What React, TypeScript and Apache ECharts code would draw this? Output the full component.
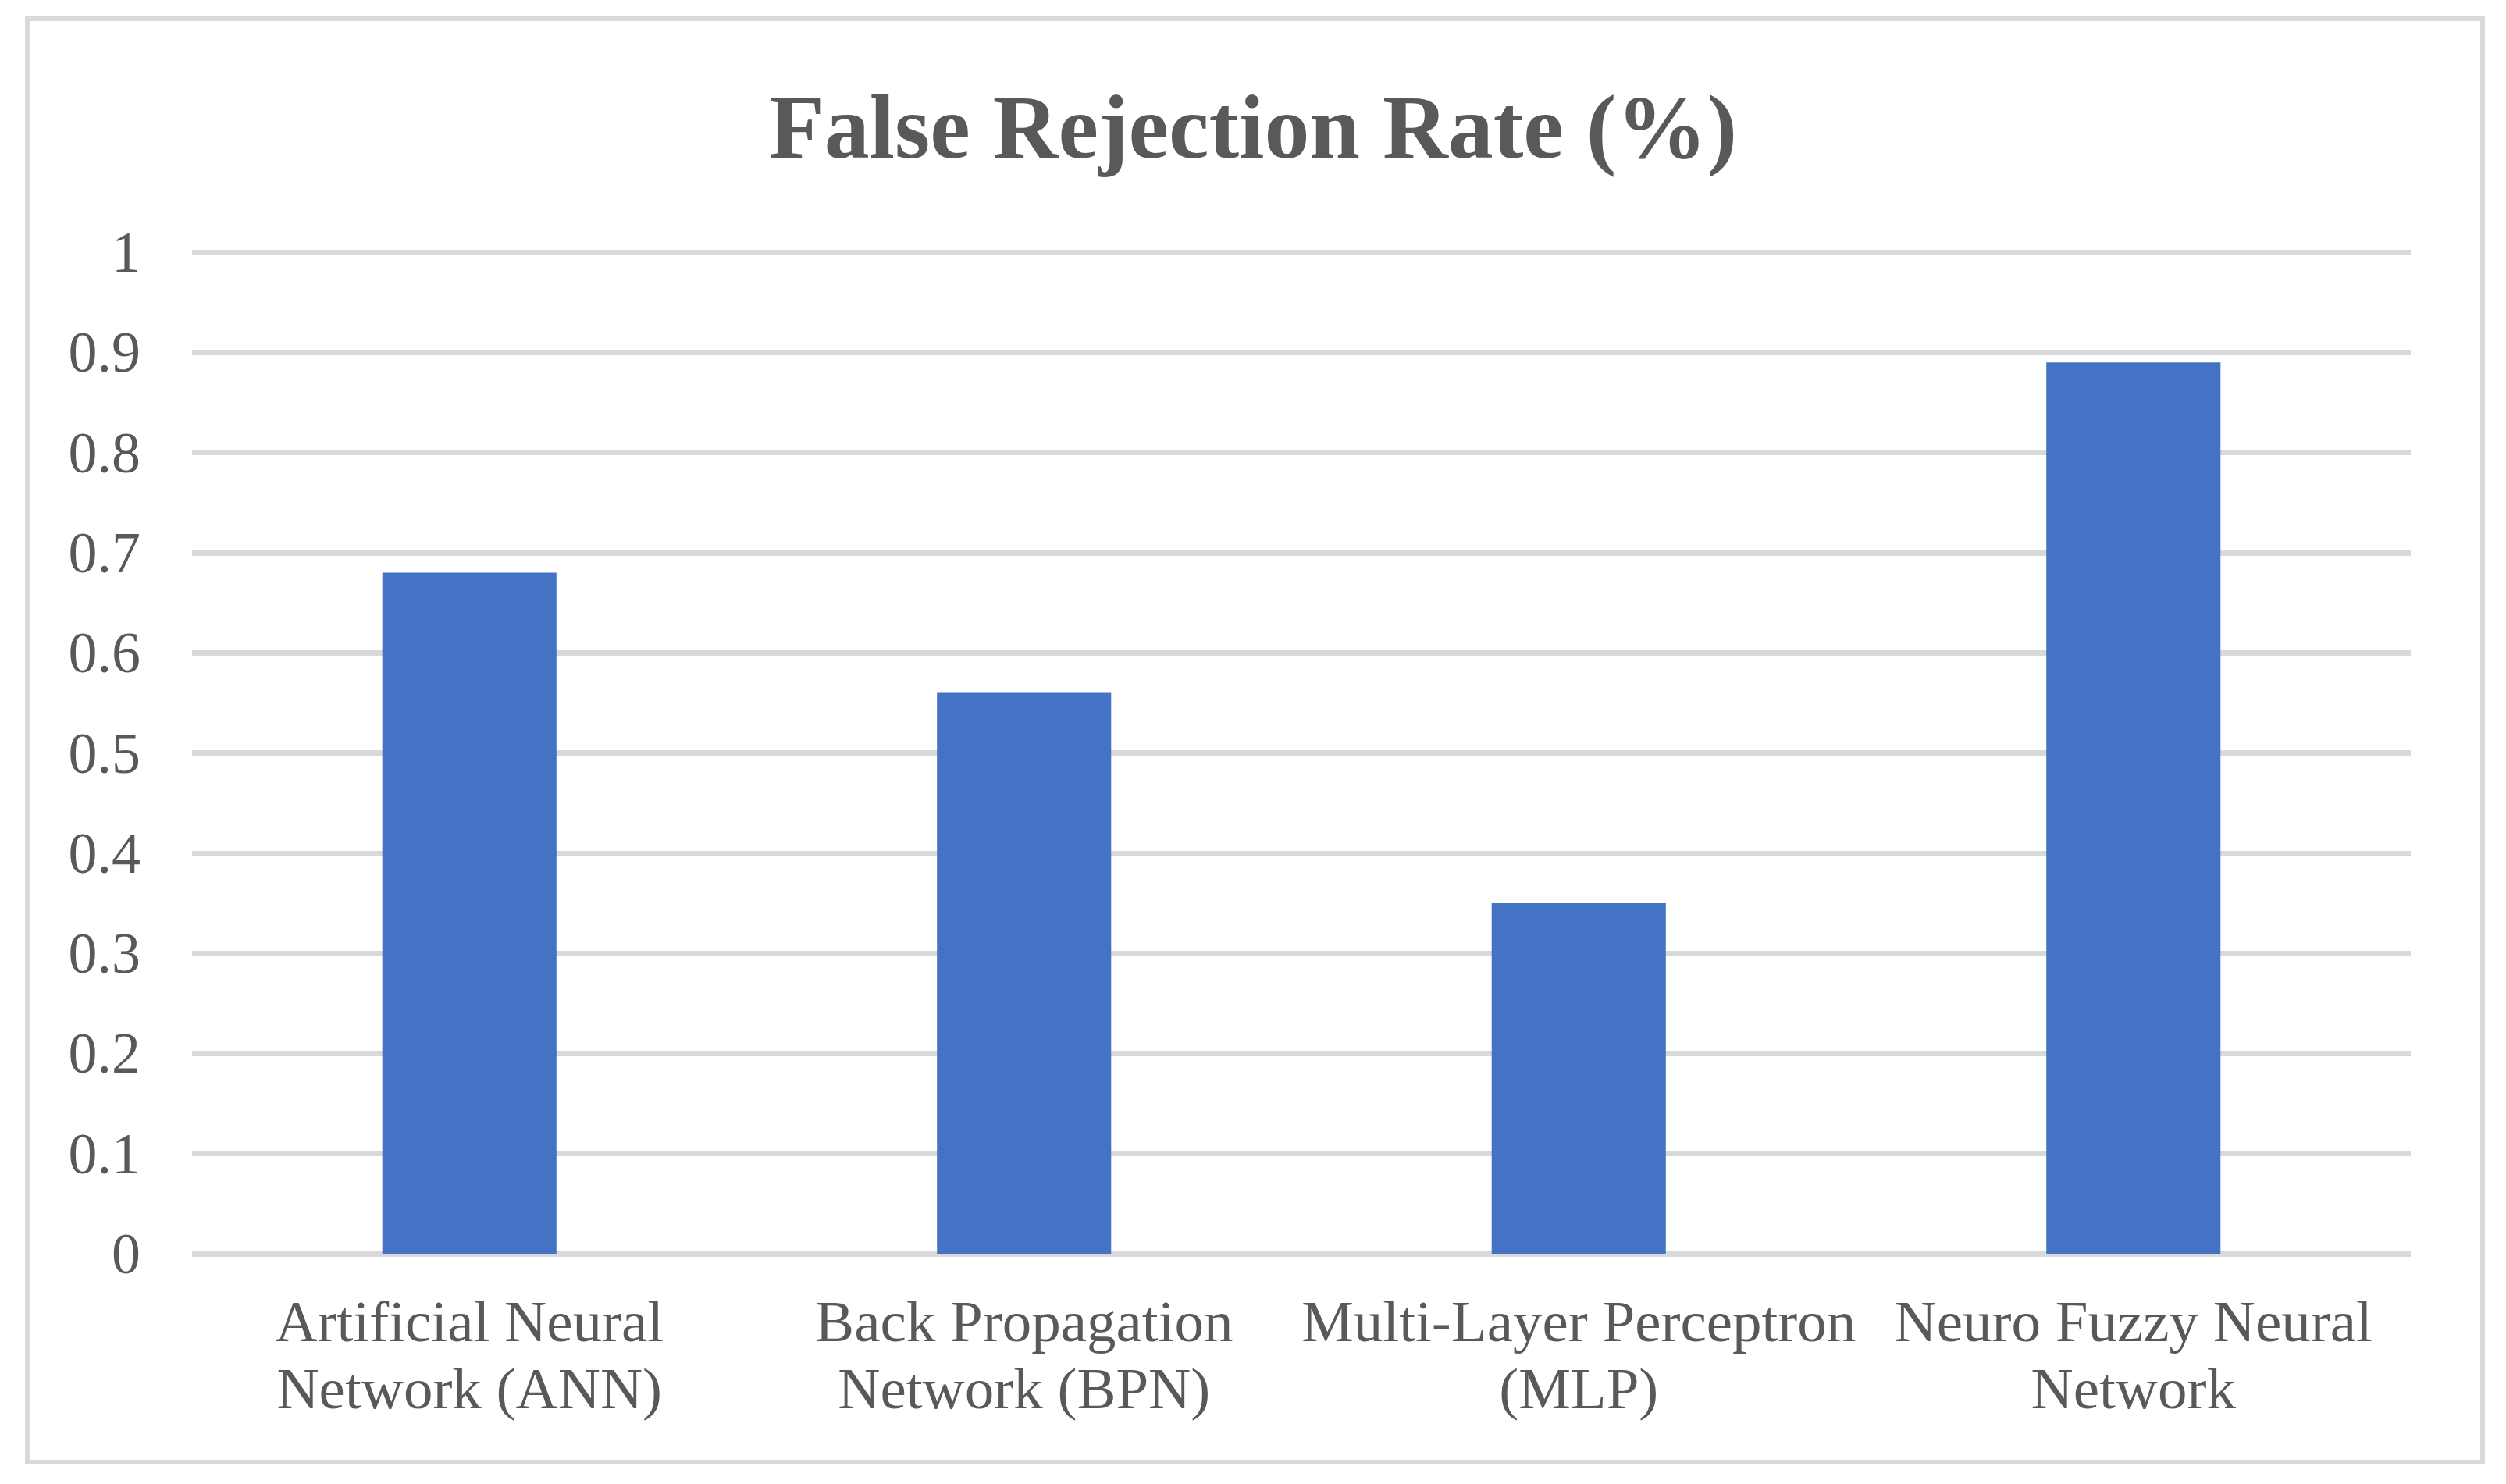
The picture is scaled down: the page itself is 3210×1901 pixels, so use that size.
import React, { useEffect, useRef } from "react";
import * as echarts from "echarts";

const titleText = "False Rejection Rate (%)";
const categories = [
  "Artificial Neural\nNetwork (ANN)",
  "Back Propagation\nNetwork (BPN)",
  "Multi-Layer Perceptron\n(MLP)",
  "Neuro Fuzzy Neural\nNetwork",
];
const values = [0.68, 0.56, 0.35, 0.89];
const yMin = 0;
const yMax = 1;
const yInterval = 0.1;

const FONT = "'Liberation Serif', 'Times New Roman', serif";
const TEXT = "#595959";
const GRID = "#d9d9d9";
const BAR = "#4472C4";

export default function App() {
  const ref = useRef<HTMLDivElement>(null);
  useEffect(() => {
    document.body.style.margin = "0";
    if (!ref.current) return;
    const chart = echarts.init(ref.current, undefined, { renderer: "svg" });
    chart.setOption({
      animation: false,
      backgroundColor: "#ffffff",
      title: {
        text: titleText,
        left: "center",
        top: 100,
        textStyle: {
          fontFamily: FONT,
          fontSize: 116,
          fontWeight: "bold",
          color: TEXT,
          lineHeight: 116,
        },
      },
      graphic: [
        {
          type: "rect",
          shape: { x: 35, y: 24, width: 3145, height: 1849 },
          style: { fill: "none", stroke: GRID, lineWidth: 6 },
          silent: true,
        },
      ],
      grid: { left: 246, right: 122, top: 323, bottom: 295, containLabel: false },
      xAxis: {
        type: "category",
        data: categories,
        axisLine: { show: false },
        axisTick: { show: false },
        axisLabel: {
          interval: 0,
          margin: 43,
          fontFamily: FONT,
          fontSize: 75,
          lineHeight: 86,
          color: TEXT,
          overflow: "none",
        },
      },
      yAxis: {
        type: "value",
        min: yMin,
        max: yMax,
        interval: yInterval,
        axisLine: { show: false },
        axisTick: { show: false },
        axisLabel: {
          margin: 66,
          fontFamily: FONT,
          fontSize: 74,
          color: TEXT,
        },
        splitLine: { show: true, lineStyle: { color: GRID, width: 7 } },
      },
      series: [
        {
          type: "bar",
          data: values,
          barWidth: "31.4%",
          itemStyle: { color: BAR },
        },
      ],
    });
    return () => chart.dispose();
  }, []);
  return (
    <div
      ref={ref}
      style={{ position: "absolute", left: 0, top: 0, width: 3210, height: 1901, background: "#fff" }}
    />
  );
}
